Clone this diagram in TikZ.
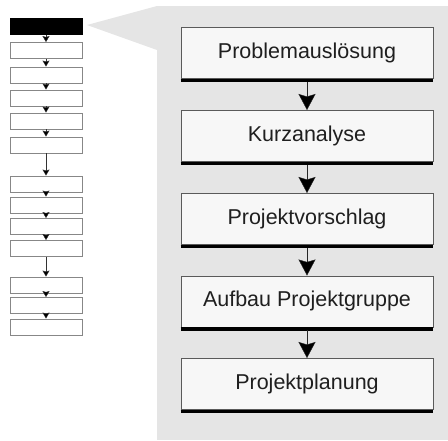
\documentclass[tikz,border=0pt]{standalone}
\usepackage{fontspec}
\setmainfont{Liberation Sans}
\usetikzlibrary{positioning,arrows.meta}
\definecolor{panelgray}{RGB}{229,229,229}
\definecolor{boxline}{RGB}{90,90,90}
\definecolor{minibox}{RGB}{135,135,135}
\tikzset{
  phase/.style={draw=boxline,fill=white!97!black,line width=0.8pt,minimum width=252pt,minimum height=51pt,anchor=north,inner sep=0pt,font=\fontsize{21.5}{24}\selectfont,text=black!88},
  phasebar/.style={line width=3.2pt,black},
  flow/.style={thin,black!85,-{Stealth[length=16pt,width=17pt,inset=2.5pt,fill=black]}},
  mini/.style={draw=minibox,fill=white,line width=0.9pt,minimum width=72pt,minimum height=16pt,inner sep=0pt},
  minicur/.style={mini,draw=black,fill=black},
  miniflow/.style={thin,black!80,-{Stealth[length=6pt,width=7pt,inset=1pt,fill=black]}},
  every picture/.style={x=1pt,y=-1pt}
}
\begin{document}
\begin{tikzpicture}
  \useasboundingbox (0,0) rectangle (448,440);
  % zoom panel
  \fill[panelgray] (87,25) -- (157,6) -- (157,50) -- cycle;
  \fill[panelgray] (157,6) rectangle (448,440);
  % overview column
  \node[minicur] (s1) at (46,26.5) {}; \node[mini] (s2) at (46,50.5) {}; \node[mini] (s3) at (46,75) {};
  \node[mini] (s4) at (46,98) {}; \node[mini] (s5) at (46,121) {}; \node[mini] (s6) at (46,145) {};
  \node[mini] (s7) at (46,184) {}; \node[mini] (s8) at (46,205) {}; \node[mini] (s9) at (46,226.5) {};
  \node[mini] (s10) at (46,248.5) {}; \node[mini] (s11) at (46,285) {}; \node[mini] (s12) at (46,305.5) {};
  \node[mini] (s13) at (46,327) {};
  \draw[miniflow] (s1) -- (s2); \draw[miniflow] (s2) -- (s3); \draw[miniflow] (s3) -- (s4);
  \draw[miniflow] (s4) -- (s5); \draw[miniflow] (s5) -- (s6); \draw[miniflow] (s6) -- (s7);
  \draw[miniflow] (s7) -- (s8); \draw[miniflow] (s8) -- (s9); \draw[miniflow] (s9) -- (s10);
  \draw[miniflow] (s10) -- (s11); \draw[miniflow] (s11) -- (s12); \draw[miniflow] (s12) -- (s13);
  % detail of the first steps
  \node[phase] (p1) at (307,27) {Problemauslösung};
  \node[phase] (p2) at (307,110) {Kurzanalyse};
  \node[phase] (p3) at (307,193) {Projektvorschlag};
  \node[phase] (p4) at (307,275.5) {Aufbau Projektgruppe};
  \node[phase] (p5) at (307,358) {Projektplanung};
  \draw[phasebar] ([yshift=-1.6pt]p1.south west) -- ([yshift=-1.6pt]p1.south east);
  \draw[phasebar] ([yshift=-1.6pt]p2.south west) -- ([yshift=-1.6pt]p2.south east);
  \draw[phasebar] ([yshift=-1.6pt]p3.south west) -- ([yshift=-1.6pt]p3.south east);
  \draw[phasebar] ([yshift=-1.6pt]p4.south west) -- ([yshift=-1.6pt]p4.south east);
  \draw[phasebar] ([yshift=-1.6pt]p5.south west) -- ([yshift=-1.6pt]p5.south east);
  \draw[flow] ([yshift=-3pt]p1.south) -- (p2.north); \draw[flow] ([yshift=-3pt]p2.south) -- (p3.north);
  \draw[flow] ([yshift=-3pt]p3.south) -- (p4.north); \draw[flow] ([yshift=-3pt]p4.south) -- (p5.north);
\end{tikzpicture}
\end{document}
